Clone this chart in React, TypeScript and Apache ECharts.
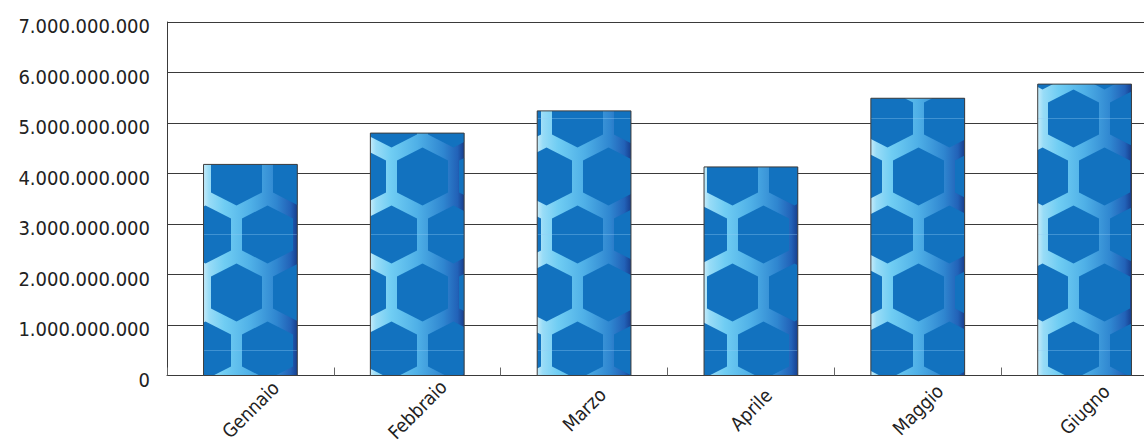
import { useEffect, useRef } from "react";
import * as echarts from "echarts";

// Monthly totals
const months = ["Gennaio", "Febbraio", "Marzo", "Aprile", "Maggio", "Giugno"];
const totals = [4180000000, 4800000000, 5240000000, 4130000000, 5490000000, 5770000000];
const yMin = 0;
const yMax = 7000000000;
const yStep = 1000000000;

const FONT = "'Liberation Sans Narrow', 'DejaVu Sans Condensed', 'DejaVu Sans', sans-serif";

// Honeycomb texture laid out in chart space (pixels)
const HEX_PITCH_X = 62;
const HEX_PITCH_Y = 58;
const HEX_PHASE_X = 19.5;
const HEX_PHASE_Y = 2.5;
const HEX_HALF_W = 25.5;
const HEX_R = 29;
const HEX_SIDE = 16;
const HEX_COLOR = "#1272bf";
const SEAM_COLOR = "rgba(150,205,245,0.35)";
const BAR_RATIO = 0.562;

function formatThousands(v: number): string {
  return String(Math.round(v)).replace(/\B(?=(\d{3})+(?!\d))/g, ".");
}

type Pt = [number, number];

// Sutherland–Hodgman clip of a convex polygon to an axis-aligned rectangle
function clipToRect(poly: Pt[], x0: number, y0: number, x1: number, y1: number): Pt[] {
  const edges: Array<[(p: Pt) => boolean, (a: Pt, b: Pt) => Pt]> = [
    [(p) => p[0] >= x0, (a, b) => [x0, a[1] + ((b[1] - a[1]) * (x0 - a[0])) / (b[0] - a[0])]],
    [(p) => p[0] <= x1, (a, b) => [x1, a[1] + ((b[1] - a[1]) * (x1 - a[0])) / (b[0] - a[0])]],
    [(p) => p[1] >= y0, (a, b) => [a[0] + ((b[0] - a[0]) * (y0 - a[1])) / (b[1] - a[1]), y0]],
    [(p) => p[1] <= y1, (a, b) => [a[0] + ((b[0] - a[0]) * (y1 - a[1])) / (b[1] - a[1]), y1]],
  ];
  let out = poly;
  for (const [inside, cross] of edges) {
    const input = out;
    out = [];
    if (!input.length) break;
    for (let i = 0; i < input.length; i++) {
      const cur = input[i];
      const prev = input[(i + input.length - 1) % input.length];
      const cIn = inside(cur);
      const pIn = inside(prev);
      if (cIn) {
        if (!pIn) out.push(cross(prev, cur));
        out.push(cur);
      } else if (pIn) {
        out.push(cross(prev, cur));
      }
    }
  }
  return out;
}

function hexagon(cx: number, cy: number): Pt[] {
  return [
    [cx, cy - HEX_R],
    [cx + HEX_HALF_W, cy - HEX_SIDE],
    [cx + HEX_HALF_W, cy + HEX_SIDE],
    [cx, cy + HEX_R],
    [cx - HEX_HALF_W, cy + HEX_SIDE],
    [cx - HEX_HALF_W, cy - HEX_SIDE],
  ];
}

function renderBar(_params: any, api: any) {
  const idx = api.value(0);
  const val = api.value(1);
  const top = api.coord([idx, val]);
  const base = api.coord([idx, 0]);
  const w = api.size([1, 0])[0] * BAR_RATIO;
  const x0 = top[0] - w / 2;
  const x1 = x0 + w;
  const y0 = top[1];
  const y1 = base[1];
  const h = y1 - y0;

  const children: any[] = [];

  // light channels between the cells, shaded across the bar
  children.push({
    type: "rect",
    shape: { x: x0, y: y0, width: w, height: h },
    style: {
      fill: new echarts.graphic.LinearGradient(0, 0, 1, 0, [
        { offset: 0, color: "#c4ebfa" },
        { offset: 0.06, color: "#98dcf7" },
        { offset: 0.22, color: "#70cdf3" },
        { offset: 0.5, color: "#4fb0e7" },
        { offset: 0.78, color: "#2f86d0" },
        { offset: 0.93, color: "#2262b8" },
        { offset: 1, color: "#173f8f" },
      ]),
    },
  });

  // dark hexagonal cells
  const rStart = Math.floor((y0 - HEX_R - HEX_PHASE_Y) / HEX_PITCH_Y);
  const rEnd = Math.ceil((y1 + HEX_R - HEX_PHASE_Y) / HEX_PITCH_Y);
  for (let r = rStart; r <= rEnd; r++) {
    const cy = HEX_PHASE_Y + r * HEX_PITCH_Y;
    const shift = ((r % 2) + 2) % 2 === 1 ? HEX_PITCH_X / 2 : 0;
    const mStart = Math.floor((x0 - HEX_HALF_W - HEX_PHASE_X - shift) / HEX_PITCH_X);
    const mEnd = Math.ceil((x1 + HEX_HALF_W - HEX_PHASE_X - shift) / HEX_PITCH_X);
    for (let m = mStart; m <= mEnd; m++) {
      const cx = HEX_PHASE_X + shift + m * HEX_PITCH_X;
      const pts = clipToRect(hexagon(cx, cy), x0, y0, x1, y1);
      if (pts.length >= 3) {
        children.push({
          type: "polygon",
          shape: { points: pts },
          style: { fill: HEX_COLOR },
        });
      }
    }
  }

  // faint tile seams
  const kStart = Math.ceil((y0 - HEX_PHASE_Y) / (2 * HEX_PITCH_Y));
  const kEnd = Math.floor((y1 - HEX_PHASE_Y) / (2 * HEX_PITCH_Y));
  for (let k = kStart; k <= kEnd; k++) {
    const sy = HEX_PHASE_Y + k * 2 * HEX_PITCH_Y;
    children.push({
      type: "line",
      shape: { x1: x0, y1: sy, x2: x1, y2: sy },
      style: { stroke: SEAM_COLOR, lineWidth: 1 },
    });
  }

  // outline
  children.push({
    type: "rect",
    shape: { x: x0, y: y0, width: w, height: h },
    style: { fill: "none", stroke: "#3d3d3d", lineWidth: 1 },
  });

  return { type: "group", children };
}

export default function App() {
  const ref = useRef<HTMLDivElement>(null);

  useEffect(() => {
    if (!ref.current) return;
    const chart = echarts.init(ref.current, null, { renderer: "svg" });
    chart.setOption({
      animation: false,
      backgroundColor: "#ffffff",
      grid: {
        left: 167,
        top: 22,
        width: 1001,
        height: 353.5,
        outerBoundsMode: "none",
      },
      xAxis: {
        type: "category",
        data: months,
        boundaryGap: true,
        axisLine: { show: true, lineStyle: { color: "#3a3a3a", width: 1 } },
        axisTick: { show: true, inside: true, length: 8, lineStyle: { color: "#666666" } },
        axisLabel: {
          rotate: 45,
          align: "center",
          verticalAlign: "middle",
          margin: 34,
          fontSize: 19,
          fontFamily: FONT,
          color: "#222222",
        },
        splitLine: { show: false },
      },
      yAxis: {
        type: "value",
        min: yMin,
        max: yMax,
        interval: yStep,
        axisLine: { show: true, lineStyle: { color: "#3a3a3a", width: 1 } },
        axisTick: { show: false },
        axisLabel: {
          margin: 17,
          fontSize: 20,
          fontFamily: FONT,
          color: "#222222",
          verticalAlign: "top",
          lineHeight: 8,
          formatter: (v: number) => formatThousands(v),
        },
        splitLine: { show: true, lineStyle: { color: "#3a3a3a", width: 1 } },
      },
      series: [
        {
          type: "custom",
          renderItem: renderBar,
          encode: { x: 0, y: 1 },
          data: totals.map((v, i) => [i, v]),
        },
      ],
    });
    return () => chart.dispose();
  }, []);

  return (
    <div
      ref={ref}
      style={{ position: "fixed", left: 0, top: 0, width: 1144, height: 443, background: "#fff" }}
    />
  );
}
